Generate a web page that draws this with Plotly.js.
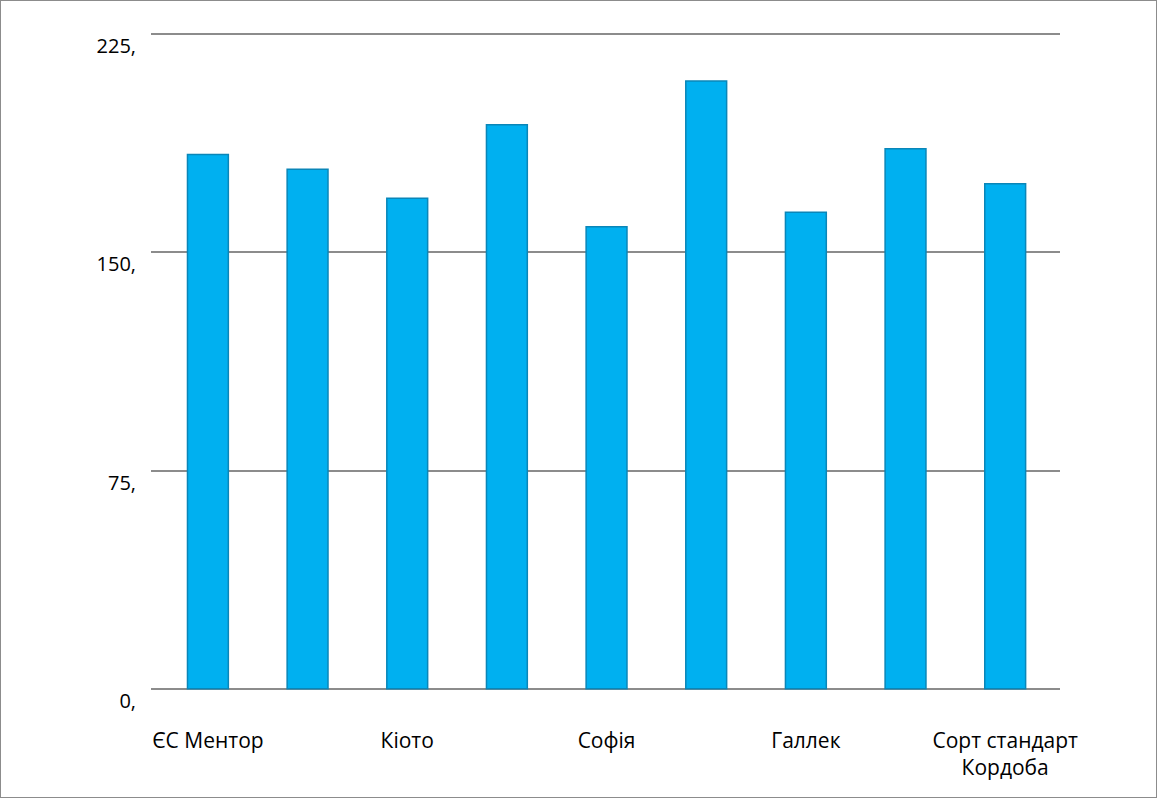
<!DOCTYPE html>
<html>
<head>
<meta charset="utf-8">
<script src="https://cdn.plot.ly/plotly-3.0.1.min.js"></script>
<style>
html,body{margin:0;padding:0;background:#fff;}
#chart{width:1155px;height:796px;border:1px solid #8c8c8c;}
</style>
</head>
<body>
<div id="chart"></div>
<script>
// Categories (only every other one is labelled on the original chart)
const categories = ["ЄС Ментор", "", "Кіото", "", "Софія", "", "Галлек", "", "Сорт стандарт<br>Кордоба"];
const values = [183.6, 178.6, 168.6, 193.9, 158.8, 208.9, 163.8, 185.6, 173.6];
const yTickVals = [0, 75, 150, 225];
const yTickText = ["0,", "75,", "150,", "225,"];

const positions = categories.map((c, i) => i);

const trace = {
  type: "bar",
  x: positions,
  y: values,
  marker: {color: "#00B0F0", line: {color: "#0a86b8", width: 1.5}},
  hoverinfo: "y",
  showlegend: false
};

const layout = {
  width: 1155,
  height: 796,
  margin: {l: 150, r: 96, t: 32, b: 107},
  paper_bgcolor: "#ffffff",
  plot_bgcolor: "#ffffff",
  bargap: 0.59,
  font: {family: "Open Sans, Noto Sans, sans-serif", color: "#000000", size: 21},
  xaxis: {
    range: [-0.571, 8.55],
    tickmode: "array",
    tickvals: positions,
    ticktext: categories,
    showgrid: false,
    zeroline: false,
    showline: false,
    ticks: "",
    tickangle: 0,
    ticklabelstandoff: 36,
    tickfont: {size: 21}
  },
  yaxis: {
    range: [-0.4, 225.4],
    tickmode: "array",
    tickvals: yTickVals,
    ticktext: yTickText,
    showgrid: true,
    gridcolor: "#8c8c8c",
    gridwidth: 2,
    zeroline: false,
    showline: false,
    ticks: "",
    ticklabelstandoff: 14,
    ticklabelshift: 12,
    tickfont: {size: 20}
  }
};

Plotly.newPlot("chart", [trace], layout, {displayModeBar: false, staticPlot: true});
</script>
</body>
</html>
